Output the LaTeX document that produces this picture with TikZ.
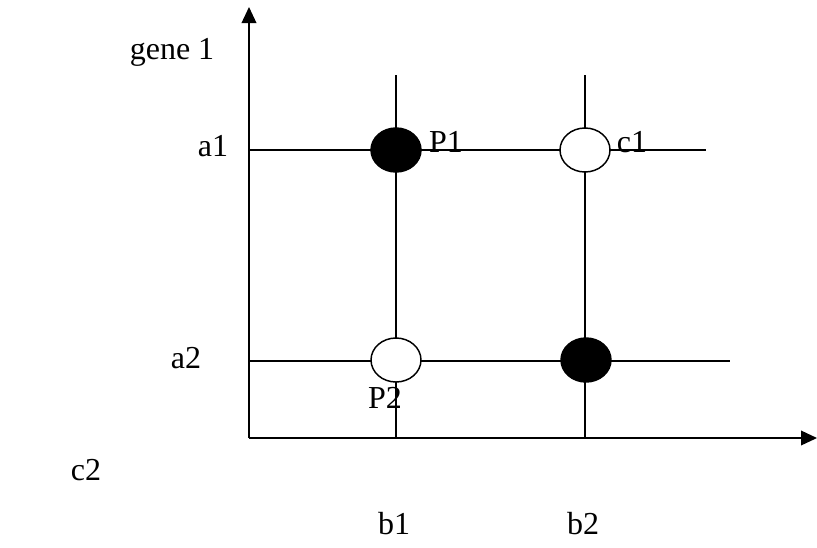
\documentclass[tikz,border=0pt]{standalone}
\usepackage{fontspec}
\setmainfont{Liberation Serif}
\usetikzlibrary{shapes.geometric,arrows.meta}

\begin{document}
\begin{tikzpicture}[
        x=0.75pt, y=-0.75pt,
        axis/.style={
            line width=1.1pt,
            -{Triangle[length=12pt,width=11pt]}
        },
        grid/.style={
            line width=1.1pt
        },
        point/.style={
            ellipse,
            draw,
            line width=1.1pt,
            minimum width=37.5pt,
            minimum height=33pt,
            inner sep=0pt
        },
        filled/.style={
            point,
            fill=black
        },
        empty/.style={
            point,
            fill=white
        },
        lbl/.style={
            font=\fontsize{24pt}{28pt}\selectfont,
            inner sep=0pt
        }
    ]

    \useasboundingbox (0,0) rectangle (817,547);

    % axes
    \coordinate (o) at (249,438);
    \coordinate (ytip) at (249,7);
    \coordinate (xtip) at (817,438);
    \draw[axis] (o) -- (ytip);
    \draw[axis] (o) -- (xtip);

    % grid lines
    \coordinate (b1top) at (396,75);
    \coordinate (b1bot) at (396,438);
    \coordinate (b2top) at (585,75);
    \coordinate (b2bot) at (585,438);
    \coordinate (a1left) at (249,150);
    \coordinate (a1right) at (706,150);
    \coordinate (a2left) at (249,361);
    \coordinate (a2right) at (730,361);
    \draw[grid] (b1top) -- (b1bot);
    \draw[grid] (b2top) -- (b2bot);
    \draw[grid] (a1left) -- (a1right);
    \draw[grid] (a2left) -- (a2right);

    % genotypes
    \node[filled] (p1) at (396,150) {};
    \node[empty] (c1) at (585,150) {};
    \node[empty] (p2) at (396,360) {};
    \node[filled] (c2) at (586,360) {};

    % labels
    \node[lbl] (gene) at (172,52) {gene 1};
    \node[lbl] (a1) at (213,146) {a1};
    \node[lbl] (a2) at (186,358) {a2};
    \node[lbl] (p1lbl) at (446,142) {P1};
    \node[lbl] (c1lbl) at (632,142) {c1};
    \node[lbl] (p2lbl) at (385,398) {P2};
    \node[lbl] (c2lbl) at (86,470) {c2};
    \node[lbl] (b1) at (394,524) {b1};
    \node[lbl] (b2) at (583,524) {b2};

\end{tikzpicture}
\end{document}
